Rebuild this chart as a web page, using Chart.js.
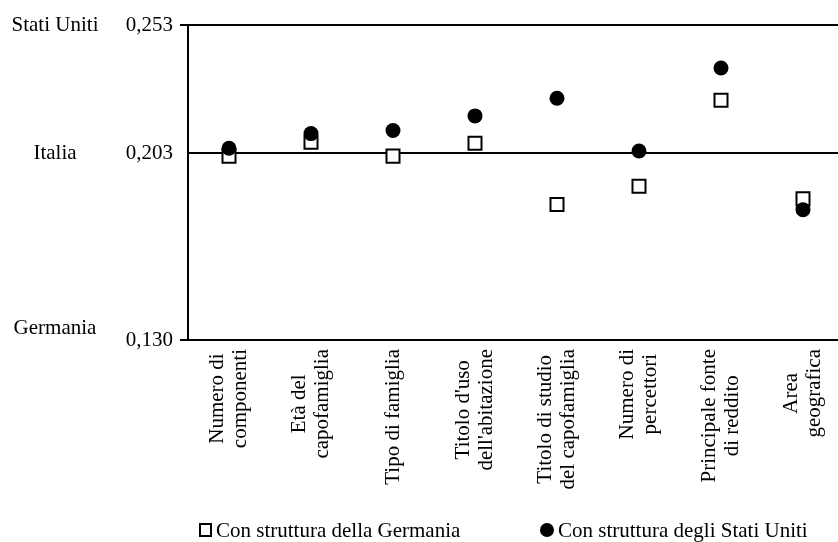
<!DOCTYPE html>
<html><head><meta charset="utf-8">
<script src="https://cdn.jsdelivr.net/npm/chart.js@4/dist/chart.umd.min.js"></script>
<style>html,body{margin:0;padding:0;background:#fff;overflow:hidden}#wrap{width:838px;height:542px;overflow:hidden}canvas{display:block}</style>
</head><body><div id="wrap"><canvas id="c" width="844" height="542"></canvas></div>
<script>
// ---- data ----
const categories = [
  ["Numero di", "componenti"],
  ["Età del", "capofamiglia"],
  ["Tipo di famiglia"],
  ["Titolo d'uso", "dell'abitazione"],
  ["Titolo di studio", "del capofamiglia"],
  ["Numero di", "percettori"],
  ["Principale fonte", "di reddito"],
  ["Area", "geografica"]
];
const seriesGermania   = [0.2018, 0.2072, 0.2018, 0.2068, 0.1829, 0.1900, 0.2236, 0.1852];
const seriesStatiUniti = [0.2049, 0.2106, 0.2118, 0.2175, 0.2244, 0.2038, 0.2362, 0.1809];
const seriesLabels = ["Con struttura della Germania", "Con struttura degli Stati Uniti"];
const yTicks = [0.130, 0.203, 0.253];
const yTickLabels = ["0,130", "0,203", "0,253"];
const yCountryLabels = ["Germania", "Italia", "Stati Uniti"];

const FONT = "'Liberation Serif', 'Times New Roman', serif";
const FS = 21;

const xLabelPlugin = {
  id: 'xLabels',
  afterDraw(chart) {
    const ctx = chart.ctx, xs = chart.scales.x;
    ctx.save();
    ctx.font = FS + 'px ' + FONT;
    ctx.fillStyle = '#000';
    ctx.textAlign = 'center';
    ctx.textBaseline = 'middle';
    const top = chart.chartArea.bottom + 9;
    const lh = 23;
    categories.forEach((lines, i) => {
      const x = xs.getPixelForTick(i);
      const W = Math.max(...lines.map(l => ctx.measureText(l).width));
      ctx.save();
      ctx.translate(x, top + W / 2);
      ctx.rotate(-Math.PI / 2);
      lines.forEach((l, j) => {
        ctx.fillText(l, 0, (j - (lines.length - 1) / 2) * lh);
      });
      ctx.restore();
    });
    ctx.restore();
  }
};

const countryPlugin = {
  id: 'countries',
  afterDraw(chart) {
    const ctx = chart.ctx, ys = chart.scales.y;
    ctx.save();
    ctx.font = FS + 'px ' + FONT;
    ctx.fillStyle = '#000';
    ctx.textAlign = 'center';
    ctx.textBaseline = 'middle';
    yTicks.forEach((v, i) => {
      const dy = i === 0 ? -12 : 0;
      ctx.fillText(yCountryLabels[i], 55, ys.getPixelForValue(v) + dy);
    });
    ctx.restore();
  }
};

const legendPlugin = {
  id: 'customLegend',
  afterDraw(chart) {
    const ctx = chart.ctx;
    ctx.save();
    ctx.font = FS + 'px ' + FONT;
    ctx.fillStyle = '#000';
    ctx.textAlign = 'left';
    ctx.textBaseline = 'alphabetic';
    const cy = 530;
    ctx.lineWidth = 2;
    ctx.strokeStyle = '#000';
    ctx.fillStyle = '#fff';
    ctx.fillRect(200, cy - 6, 11, 12);
    ctx.strokeRect(200, cy - 6, 11, 12);
    ctx.fillStyle = '#000';
    ctx.fillText(chart.data.datasets[0].label, 216, 537);
    ctx.beginPath();
    ctx.arc(547, cy, 7, 0, Math.PI * 2);
    ctx.fill();
    ctx.fillText(chart.data.datasets[1].label, 558, 537);
    ctx.restore();
  }
};

new Chart(document.getElementById('c'), {
  type: 'line',
  data: {
    labels: categories,
    datasets: [
      {
        label: seriesLabels[0],
        data: seriesGermania,
        showLine: false,
        pointStyle: 'rect',
        pointRadius: 9.2,
        pointHoverRadius: 9.2,
        pointBorderWidth: 2,
        pointBackgroundColor: '#fff',
        pointBorderColor: '#000',
        order: 1
      },
      {
        label: seriesLabels[1],
        data: seriesStatiUniti,
        showLine: false,
        pointStyle: 'circle',
        pointRadius: 7.5,
        pointHoverRadius: 7.5,
        pointBorderWidth: 0,
        pointBackgroundColor: '#000',
        pointBorderColor: '#000',
        order: 0
      }
    ]
  },
  options: {
    responsive: false,
    animation: false,
    devicePixelRatio: 1,
    layout: { autoPadding: false, padding: { top: 25, right: 0, bottom: 0, left: 0 } },
    plugins: { legend: { display: false }, tooltip: { enabled: false } },
    scales: {
      x: {
        type: 'category',
        offset: true,
        grid: { display: false },
        border: { display: true, color: '#000', width: 2 },
        ticks: { display: false },
        afterFit: (s) => { s.height = 202; }
      },
      y: {
        type: 'linear',
        min: 0.130,
        max: 0.253,
        afterBuildTicks: (s) => { s.ticks = yTicks.map(v => ({ value: v })); },
        afterFit: (s) => { s.width = 188; },
        grid: {
          color: '#000',
          lineWidth: 2,
          tickLength: 8,
          tickColor: (c) => (c.tick && c.tick.value === 0.203) ? 'rgba(0,0,0,0)' : '#000'
        },
        border: { display: true, color: '#000', width: 2 },
        ticks: {
          color: '#000',
          padding: 7,
          font: { family: FONT, size: FS },
          callback: (v) => { const i = yTicks.indexOf(v); return i >= 0 ? yTickLabels[i] : ''; }
        }
      }
    }
  },
  plugins: [xLabelPlugin, countryPlugin, legendPlugin]
});
</script>
</body></html>
